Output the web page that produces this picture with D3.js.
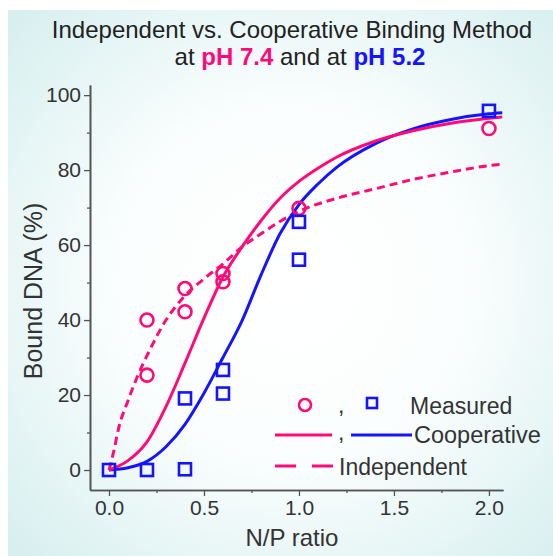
<!DOCTYPE html>
<html>
<head>
<meta charset="utf-8">
<script src="https://cdn.jsdelivr.net/npm/d3@7"></script>
<style>
  body { margin: 0; background: #fff; }
  text { font-family: "Liberation Sans", Arial, sans-serif; }
</style>
</head>
<body>
<div id="chart"></div>
<script>
const width = 553
const height = 556

// measured points
const ratio74 = [0.2, 0.2, 0.4, 0.4, 0.6, 0.6, 1.0, 2.0]
const bound74 = [40, 25.3, 48.4, 42.2, 52.4, 50.2, 69.8, 91.1]
const ratio52 = [0, 0.2, 0.4, 0.4, 0.6, 0.6, 1.0, 1.0, 2.0]
const bound52 = [0, 0, 0.2, 19.1, 26.7, 20.4, 66.2, 56.1, 95.8]

// fitted curves
const fitRatio = [0, 0.1, 0.2, 0.3, 0.4, 0.5, 0.6, 0.7, 0.8, 0.9, 1.0, 1.1, 1.2, 1.4, 1.6, 1.8, 2.0, 2.07]
const coop74 = [0, 2.5, 7.5, 16.9, 28.5, 40.5, 51.5, 59.5, 66.5, 72.5, 77, 80.5, 83.5, 87.7, 90.5, 92.5, 93.8, 94.2]
const coop52 = [0, 0.6, 2.3, 6.2, 12.2, 20.5, 30, 39.8, 52, 63, 70.8, 76.3, 80.8, 87, 91, 93.5, 95, 95.3]
const indepRatio = [0, 0.025, 0.05, 0.1, 0.15, 0.2, 0.3, 0.4, 0.5, 0.6, 0.7, 0.8, 0.9, 1.0, 1.2, 1.4, 1.6, 1.8, 2.0, 2.07]
const indep74 = [0, 5, 11, 18.5, 25, 30.5, 40, 46.5, 51, 55, 59.5, 63, 66.3, 69, 72.5, 75, 77.5, 79.5, 81.2, 81.6]

const xTicks = [0, 0.5, 1.0, 1.5, 2.0]
const xMinor = [0.25, 0.75, 1.25, 1.75]
const yTicks = [0, 20, 40, 60, 80, 100]
const yMinor = [10, 30, 50, 70, 90]

const pink = "#ff0a78"
const blue = "#1414ff"
const axisColor = "#555"

const svg = d3.select("div#chart").append("svg").attr("width", width).attr("height", height)

// background panel
const defs = svg.append("defs")
const grad = defs.append("radialGradient").attr("id", "bg")
    .attr("cx", "52%").attr("cy", "50%").attr("r", "70%")
grad.append("stop").attr("offset", "0%").attr("stop-color", "#ffffff")
grad.append("stop").attr("offset", "45%").attr("stop-color", "#fbfefe")
grad.append("stop").attr("offset", "100%").attr("stop-color", "#d8efef")
svg.append("rect").attr("x", 8).attr("y", 10).attr("width", width - 8).attr("height", height - 10)
    .attr("fill", "url(#bg)")

const x = d3.scaleLinear().domain([-0.1, 2.074]).range([90, 503])
const y = d3.scaleLinear().domain([-5.33, 102.7]).range([490, 85])

// title
const title = svg.append("text").attr("text-anchor", "middle").attr("font-size", 24).attr("fill", "#222")
title.append("tspan").attr("x", 292).attr("y", 38).text("Independent vs. Cooperative Binding Method")
const t2 = title.append("tspan").attr("x", 300).attr("y", 65)
t2.append("tspan").text("at ")
t2.append("tspan").attr("fill", pink).attr("font-weight", "bold").text("pH 7.4")
t2.append("tspan").text(" and at ")
t2.append("tspan").attr("fill", blue).attr("font-weight", "bold").text("pH 5.2")

// axes
const xAxisGroup = svg.append("g").attr("transform", `translate(0, ${y.range()[0]})`)
xAxisGroup.call(d3.axisBottom(x).tickValues(xTicks).tickFormat(d3.format(".1f")).tickSize(6).tickSizeOuter(0).tickPadding(4))
const xMinorGroup = svg.append("g").attr("transform", `translate(0, ${y.range()[0]})`)
xMinorGroup.call(d3.axisBottom(x).tickValues(xMinor).tickFormat("").tickSize(3).tickSizeOuter(0))

const yAxisGroup = svg.append("g").attr("transform", `translate(${x.range()[0]}, 0)`)
yAxisGroup.call(d3.axisLeft(y).tickValues(yTicks).tickSize(6).tickSizeOuter(0).tickPadding(3))
const yMinorGroup = svg.append("g").attr("transform", `translate(${x.range()[0]}, 0)`)
yMinorGroup.call(d3.axisLeft(y).tickValues(yMinor).tickFormat("").tickSize(3).tickSizeOuter(0))

svg.selectAll(".domain").attr("stroke", axisColor).attr("stroke-width", 1.6)
svg.selectAll(".tick line").attr("stroke", axisColor).attr("stroke-width", 1.3)
svg.selectAll(".tick text").attr("font-size", 21).attr("fill", "#333")
    .attr("font-family", "Liberation Sans, Arial, sans-serif")

svg.append("text").attr("x", 292).attr("y", 546).attr("text-anchor", "middle")
    .attr("font-size", 24).attr("fill", "#333").text("N/P ratio")
svg.append("text").attr("transform", "translate(42, 291) rotate(-90)").attr("text-anchor", "middle")
    .attr("font-size", 25).attr("fill", "#333").text("Bound DNA (%)")

// curves
const line = d3.line().x(d => x(d[0])).y(d => y(d[1])).curve(d3.curveMonotoneX)
const elementGroup = svg.append("g")

elementGroup.append("path").datum(d3.zip(indepRatio, indep74))
    .attr("d", line).attr("fill", "none").attr("stroke", pink).attr("stroke-width", 3)
    .attr("stroke-dasharray", "8,5")
elementGroup.append("path").datum(d3.zip(fitRatio, coop52))
    .attr("d", line).attr("fill", "none").attr("stroke", blue).attr("stroke-width", 3)
elementGroup.append("path").datum(d3.zip(fitRatio, coop74))
    .attr("d", line).attr("fill", "none").attr("stroke", pink).attr("stroke-width", 3)

elementGroup.selectAll("circle.m74").data(d3.zip(ratio74, bound74)).enter()
    .append("circle").attr("class", "m74")
    .attr("cx", d => x(d[0])).attr("cy", d => y(d[1])).attr("r", 6.5)
    .attr("fill", "none").attr("stroke", pink).attr("stroke-width", 2.6)

const sq = 12
elementGroup.selectAll("rect.m52").data(d3.zip(ratio52, bound52)).enter()
    .append("rect").attr("class", "m52")
    .attr("x", d => x(d[0]) - sq / 2).attr("y", d => y(d[1]) - sq / 2)
    .attr("width", sq).attr("height", sq)
    .attr("fill", "none").attr("stroke", blue).attr("stroke-width", 2.6)

// legend
const legend = svg.append("g")
legend.append("circle").attr("cx", 305).attr("cy", 405).attr("r", 6).attr("fill", "none").attr("stroke", pink).attr("stroke-width", 2.6)
legend.append("text").attr("x", 338).attr("y", 413).attr("font-size", 23).attr("fill", "#333").text(",")
legend.append("rect").attr("x", 367).attr("y", 398).attr("width", 10).attr("height", 10).attr("fill", "none").attr("stroke", blue).attr("stroke-width", 2.6)
legend.append("text").attr("x", 410).attr("y", 414).attr("font-size", 23).attr("fill", "#333").text("Measured")

legend.append("line").attr("x1", 275).attr("x2", 332).attr("y1", 435).attr("y2", 435).attr("stroke", pink).attr("stroke-width", 3)
legend.append("text").attr("x", 338).attr("y", 440).attr("font-size", 23).attr("fill", "#333").text(",")
legend.append("line").attr("x1", 351).attr("x2", 412).attr("y1", 435).attr("y2", 435).attr("stroke", blue).attr("stroke-width", 3)
legend.append("text").attr("x", 414).attr("y", 443).attr("font-size", 23.5).attr("fill", "#333").text("Cooperative")

legend.append("line").attr("x1", 275).attr("x2", 333).attr("y1", 466).attr("y2", 466).attr("stroke", pink).attr("stroke-width", 3)
    .attr("stroke-dasharray", "21,16")
legend.append("text").attr("x", 339).attr("y", 475).attr("font-size", 23).attr("fill", "#333").text("Independent")
</script>
</body>
</html>
